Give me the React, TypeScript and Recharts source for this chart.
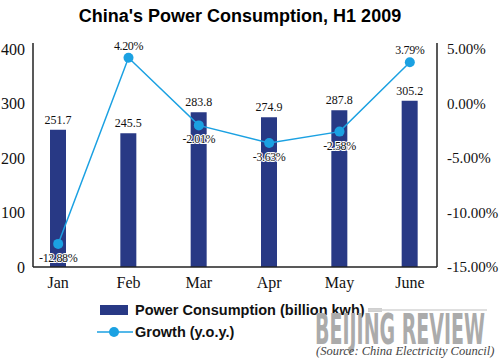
import React from "react";
import {
  ComposedChart,
  Bar,
  Line,
  XAxis,
  YAxis,
  LabelList,
} from "recharts";

const months = ["Jan", "Feb", "Mar", "Apr", "May", "June"];
const power = [251.7, 245.5, 283.8, 274.9, 287.8, 305.2];
const growth = [-12.88, 4.2, -2.01, -3.63, -2.58, 3.79];
// which growth labels sit above the dot (the rest go below)
const growthAbove = [false, true, false, false, false, true];
const leftTicks = [0, 100, 200, 300, 400];
const rightTicks = [-15, -10, -5, 0, 5];

const data = months.map((m, i) => ({ month: m, power: power[i], growth: growth[i] }));

const NAVY = "#283985";
const BLUE = "#1ba1e2";
const SERIF = "'Liberation Serif', 'Times New Roman', serif";
const SANS = "'Liberation Sans', Arial, sans-serif";

function GrowthLabel(props: { x?: number; y?: number; value?: number; index?: number }) {
  const { x = 0, y = 0, value = 0, index = 0 } = props;
  const above = growthAbove[index];
  return (
    <text
      x={x}
      y={above ? y - 8 : y + 18}
      textAnchor="middle"
      fontFamily={SERIF}
      fontSize={12}
      fill="#111"
      stroke="#fff"
      strokeWidth={2}
      paintOrder="stroke"
      style={{ letterSpacing: -0.4 }}
    >
      {`${value.toFixed(2)}%`}
    </text>
  );
}

export default function App() {
  return (
    <div
      style={{
        position: "fixed",
        left: 0,
        top: 0,
        width: 500,
        height: 363,
        background: "#fff",
        overflow: "hidden",
      }}
    >
      <ComposedChart
        width={500}
        height={363}
        data={data}
        margin={{ top: 43, right: 0, bottom: 66, left: 0 }}
      >
        <text x={240} y={22} textAnchor="middle" fontFamily={SANS} fontWeight={700} fontSize={18} fill="#000">
          China's Power Consumption, H1 2009
        </text>
        <XAxis
          dataKey="month"
          height={30}
          padding={{ left: -10, right: -8 }}
          tickLine={false}
          tickMargin={4}
          axisLine={{ stroke: "#222", strokeWidth: 1.5 }}
          tick={{ fontFamily: SERIF, fontSize: 16, fill: "#111" }}
          interval={0}
        />
        <YAxis
          yAxisId="left"
          orientation="left"
          width={33}
          domain={[0, 411]}
          ticks={leftTicks}
          tickLine={false}
          tickMargin={2}
          axisLine={{ stroke: "#222", strokeWidth: 1.5 }}
          tick={{ fontFamily: SERIF, fontSize: 16, fill: "#111" }}
        />
        <YAxis
          yAxisId="right"
          orientation="right"
          width={63}
          domain={[-15, 5.55]}
          ticks={rightTicks}
          tickLine={false}
          tickMargin={4}
          axisLine={{ stroke: "#222", strokeWidth: 1.5 }}
          tick={{ fontFamily: SERIF, fontSize: 15, fill: "#111" }}
          tickFormatter={(v: number) => `${v.toFixed(2)}%`}
        />
        <Bar yAxisId="left" dataKey="power" fill={NAVY} barSize={16} isAnimationActive={false}>
          <LabelList
            dataKey="power"
            position="top"
            offset={6}
            fontFamily={SERIF}
            fontSize={12}
            fill="#111"
            formatter={(v: number) => v.toFixed(1)}
          />
        </Bar>
        <Line
          yAxisId="right"
          dataKey="growth"
          stroke={BLUE}
          strokeWidth={1.5}
          dot={{ r: 5, fill: BLUE, stroke: BLUE, strokeWidth: 0 }}
          isAnimationActive={false}
        >
          <LabelList dataKey="growth" content={GrowthLabel as never} />
        </Line>

        {/* legend */}
        <rect x={100} y={305} width={28} height={10} fill={NAVY} />
        <text x={135} y={315} fontFamily={SANS} fontWeight={700} fontSize={14.5} fill="#111">
          Power Consumption (billion kwh)
        </text>
        <line x1={97} y1={332} x2={133} y2={332} stroke={BLUE} strokeWidth={1.5} />
        <circle cx={114} cy={332} r={5} fill={BLUE} />
        <text x={135} y={337} fontFamily={SANS} fontWeight={700} fontSize={14.5} fill="#111">
          Growth (y.o.y.)
        </text>

        {/* watermark and source */}
        <rect x={368} y={308} width={14} height={4} fill="#cfcfcf" />
        <line x1={368} y1={310} x2={487} y2={310} stroke="#d4d4d4" strokeWidth={1.5} />
        <text
          x={315}
          y={344}
          textLength={170}
          lengthAdjust="spacingAndGlyphs"
          fontFamily="'DejaVu Sans', sans-serif"
          fontWeight={700}
          fontSize={42}
          fill="#ababab"
        >
          BEIJING REVIEW
        </text>
        <text
          x={316}
          y={355}
          fontFamily={SERIF}
          fontStyle="italic"
          fontSize={12.5}
          fill="#444"
        >
          (Source: China Electricity Council)
        </text>
      </ComposedChart>
    </div>
  );
}
